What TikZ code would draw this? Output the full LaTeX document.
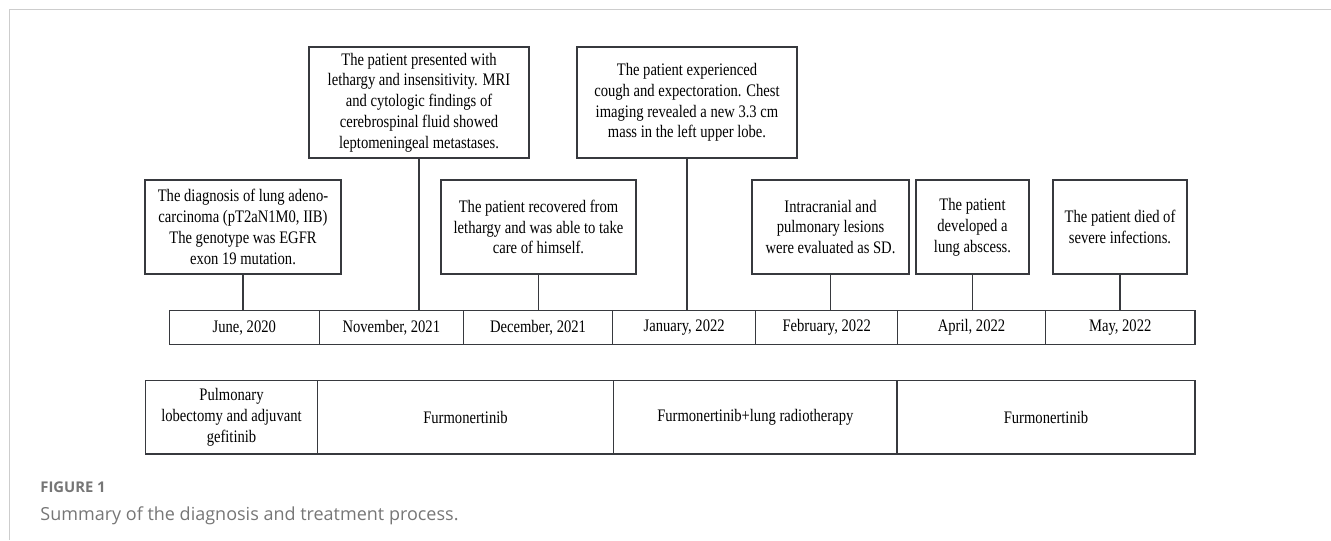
\documentclass[tikz,border=0pt]{standalone}
\usepackage{fontspec}
\setmainfont[FakeStretch=0.83]{Liberation Serif}
\newfontfamily\capfont{Open Sans}
\usepackage{tikz}
\usetikzlibrary{positioning}
\usepackage{xcolor}
\definecolor{boxline}{RGB}{55,57,62}
\definecolor{framegray}{RGB}{205,205,205}
\definecolor{capgray}{RGB}{118,118,118}

\tikzset{
  evbox/.style={draw=boxline, line width=0.6pt, align=center, inner sep=0pt,
    font=\fontsize{8.8}{10.4}\selectfont, minimum height=47pt},
  datecell/.style={draw=boxline, line width=0.6pt, inner sep=0pt,
    font=\fontsize{8.8}{10.4}\selectfont, minimum height=16.8pt},
  txcell/.style={draw=boxline, line width=0.6pt, align=center, inner sep=0pt,
    font=\fontsize{8.8}{10.4}\selectfont, minimum height=36.65pt},
  stem/.style={draw=boxline, line width=0.6pt}
}

\begin{document}
\begin{tikzpicture}[x=0.5pt, y=-0.5pt]
  \useasboundingbox (0,0) rectangle (1331,540);
  % Frame
  \draw[framegray, line width=0.75pt] (9.3,540) -- (9.3,9.3) -- (1331,9.3);
  % Events
  \node[evbox, minimum width=98pt] (ev1) at (243,227) {The diagnosis of lung adeno-\\carcinoma (pT2aN1M0, IIB)\\The genotype was EGFR\\exon 19 mutation.};
  \node[evbox, minimum width=110pt, minimum height=55.5pt] (ev2) at (419,102.5) {The patient presented with\\lethargy and insensitivity. MRI\\and cytologic findings of\\cerebrospinal fluid showed\\leptomeningeal metastases.};
  \node[evbox, minimum width=97.5pt] (ev3) at (538.5,227) {The patient recovered from\\lethargy and was able to take\\care of himself.};
  \node[evbox, minimum width=110pt, minimum height=55.5pt] (ev4) at (687,102.5) {The patient experienced\\cough and expectoration. Chest\\imaging revealed a new 3.3 cm\\mass in the left upper lobe.};
  \node[evbox, minimum width=78.5pt] (ev5) at (830.5,227) {Intracranial and\\pulmonary lesions\\were evaluated as SD.};
  \node[evbox, minimum width=56.5pt] (ev6) at (972.5,227) {The patient\\developed a\\lung abscess.};
  \node[evbox, minimum width=67pt] (ev7) at (1120,227) {The patient died of\\severe infections.};
  % Dates
  \node[datecell, minimum width=75pt] (d1) at (244.3,327.5) {June, 2020};
  \node[datecell, minimum width=72pt] (d2) at (391.3,327.5) {November, 2021};
  \node[datecell, minimum width=74.7pt] (d3) at (538,327.5) {December, 2021};
  \node[datecell, minimum width=71.5pt] (d4) at (684.2,327.5) {January, 2022};
  \node[datecell, minimum width=71pt] (d5) at (826.7,327.5) {February, 2022};
  \node[datecell, minimum width=73.8pt] (d6) at (971.5,327.5) {April, 2022};
  \node[datecell, minimum width=74.85pt] (d7) at (1120.2,327.5) {May, 2022};
  % Stems
  \foreach \i in {1,...,7}
    \draw[stem] (ev\i.south) -- (ev\i.south |- d\i.north);
  % Treatments
  \node[txcell, minimum width=85.8pt] (tx1) at (231.5,417.3) {Pulmonary\\lobectomy and adjuvant\\gefitinib};
  \node[txcell, minimum width=148.2pt] (tx2) at (465.5,417.3) {Furmonertinib};
  \node[txcell, minimum width=141.65pt] (tx3) at (755.3,417.3) {Furmonertinib+lung radiotherapy};
  \node[txcell, minimum width=149pt] (tx4) at (1046,417.3) {Furmonertinib};
  % Caption
  \node[anchor=base west, inner sep=0pt, text=capgray, font=\capfont\bfseries\fontsize{7.4}{9}\selectfont] (fig) at (40,492) {FIGURE 1};
  \node[anchor=base west, inner sep=0pt, text=capgray, font=\capfont\fontsize{9}{10.5}\selectfont] (cap) at (40,520) {Summary of the diagnosis and treatment process.};
\end{tikzpicture}
\end{document}
